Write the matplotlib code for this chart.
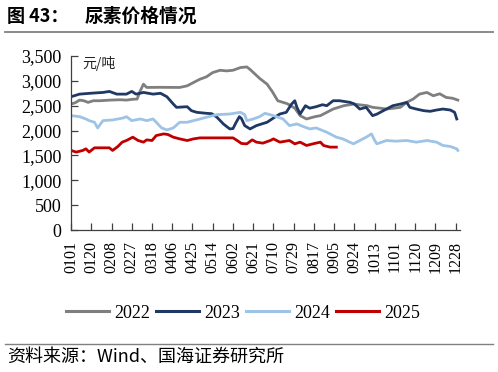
import matplotlib
matplotlib.use('Agg')
import matplotlib.pyplot as plt
from matplotlib.lines import Line2D

SERIF = 'Liberation Serif'
CJK = ['Noto Sans CJK SC', 'DejaVu Sans']

COLORS = {
    '2022': '#7f7f7f',
    '2023': '#1f3864',
    '2024': '#9dc3e6',
    '2025': '#c00000',
}

# day-of-year index (0 = Jan 1) and price (yuan/ton)
days_2022 = [0, 4, 8, 12, 16, 21, 27, 37, 46, 52, 58, 62, 65, 68, 71, 83, 102, 109,
             115, 121, 127, 133, 140, 146, 152, 159, 165, 168, 173, 177, 184, 189,
             194, 203, 210, 215, 221, 229, 234, 246, 256, 265, 278, 283, 290, 296,
             303, 309, 315, 321, 327, 334, 340, 346, 352, 358, 363]
vals_2022 = [2533, 2560, 2613, 2600, 2567, 2600, 2600, 2613, 2620, 2613, 2630, 2633,
             2800, 2933, 2867, 2870, 2867, 2900, 2967, 3033, 3080, 3167, 3213, 3200,
             3213, 3267, 3280, 3230, 3130, 3050, 2933, 2780, 2600, 2540, 2450, 2300,
             2233, 2280, 2300, 2433, 2500, 2533, 2500, 2467, 2450, 2433, 2450, 2467,
             2567, 2633, 2733, 2767, 2700, 2740, 2667, 2650, 2613]

days_2023 = [0, 8, 20, 30, 36, 43, 52, 57, 61, 68, 77, 84, 90, 96, 99, 109, 113, 118,
             127, 132, 137, 143, 149, 152, 155, 158, 160, 163, 168, 174, 184, 191,
             196, 202, 207, 210, 212, 215, 220, 224, 230, 236, 240, 246, 252, 262,
             266, 271, 277, 283, 287, 296, 302, 309, 315, 318, 324, 331, 337, 343,
             349, 356, 360, 362]
vals_2023 = [2680, 2733, 2753, 2767, 2787, 2733, 2733, 2787, 2733, 2767, 2733, 2750,
             2680, 2533, 2467, 2480, 2400, 2367, 2347, 2340, 2267, 2133, 2033, 2040,
             2167, 2280, 2240, 2100, 2033, 2100, 2167, 2267, 2333, 2367, 2533, 2600,
             2467, 2333, 2500, 2450, 2480, 2520, 2500, 2600, 2600, 2567, 2533, 2433,
             2467, 2300, 2330, 2433, 2500, 2533, 2567, 2467, 2433, 2400, 2387, 2413,
             2433, 2413, 2367, 2233]

days_2024 = [0, 8, 14, 17, 22, 25, 30, 39, 49, 52, 57, 65, 71, 77, 80, 85, 90, 96,
             102, 109, 115, 121, 127, 137, 149, 159, 163, 165, 171, 177, 182, 190,
             199, 205, 212, 218, 224, 230, 240, 249, 255, 265, 271, 277, 282, 285,
             287, 296, 305, 315, 324, 334, 343, 349, 356, 362, 363]
vals_2024 = [2300, 2280, 2233, 2200, 2167, 2053, 2200, 2213, 2253, 2280, 2200, 2233,
             2200, 2233, 2167, 2053, 2013, 2053, 2167, 2167, 2200, 2233, 2267, 2320,
             2333, 2367, 2320, 2200, 2233, 2280, 2347, 2300, 2233, 2100, 2133, 2080,
             2033, 2053, 1967, 1867, 1833, 1733, 1800, 1867, 1933, 1800, 1733, 1800,
             1787, 1800, 1767, 1800, 1767, 1700, 1680, 1633, 1600]

days_2025 = [0, 5, 11, 14, 17, 22, 36, 39, 44, 48, 52, 58, 63, 68, 71, 76, 80, 87,
             91, 96, 102, 109, 115, 121, 140, 152, 155, 160, 165, 170, 174, 180, 187,
             190, 196, 205, 210, 215, 221, 227, 234, 237, 243, 249]
vals_2025 = [1600, 1567, 1600, 1633, 1567, 1653, 1653, 1600, 1680, 1767, 1800, 1867,
             1800, 1767, 1813, 1800, 1900, 1933, 1920, 1867, 1833, 1800, 1833, 1853,
             1853, 1853, 1813, 1740, 1733, 1813, 1767, 1747, 1800, 1833, 1767, 1800,
             1733, 1767, 1700, 1733, 1767, 1700, 1667, 1667]

tick_labels = ['0101', '0120', '0208', '0227', '0318', '0406', '0425', '0514', '0602',
               '0621', '0710', '0729', '0817', '0905', '0924', '1013', '1101', '1120',
               '1209', '1228']
tick_days = [19 * i for i in range(len(tick_labels))]

series = [
    ('2022', days_2022, vals_2022),
    ('2023', days_2023, vals_2023),
    ('2024', days_2024, vals_2024),
    ('2025', days_2025, vals_2025),
]

fig = plt.figure(figsize=(4.98, 3.72), dpi=100, facecolor='white')
ax = fig.add_axes([0.1426, 0.3817, 0.781, 0.4678])

for name, d, v in series:
    ax.plot(d, v, color=COLORS[name], linewidth=2.0, solid_joinstyle='round')

ax.set_xlim(0, 365)
ax.set_ylim(0, 3500)
ax.set_yticks(range(0, 3501, 500))
ax.set_yticklabels([f'{v:,}' for v in range(0, 3501, 500)])
ax.set_xticks(tick_days)
ax.set_xticklabels(tick_labels, rotation=90)

for s in ['top', 'right']:
    ax.spines[s].set_visible(False)
for s in ['left', 'bottom']:
    ax.spines[s].set_color('#404040')
    ax.spines[s].set_linewidth(0.9)
ax.tick_params(axis='y', direction='in', length=5, width=0.9, color='#404040', pad=7,
               labelsize=13, labelfontfamily=SERIF)
ax.tick_params(axis='x', direction='in', length=5, width=0.9, color='#404040', pad=8,
               labelsize=11.5, labelfontfamily=SERIF)
for lbl in ax.get_xticklabels() + ax.get_yticklabels():
    lbl.set_fontfamily(SERIF)

ax.text(0.03, 0.955, '元/吨', transform=ax.transAxes, fontsize=10, family=CJK,
        ha='left', va='center', color='#222222')

# legend below plot
handles = [Line2D([0], [0], color=COLORS[n], linewidth=2.2) for n, _, _ in series]
fig.legend(handles, [n for n, _, _ in series], loc='center',
           bbox_to_anchor=(0.488, 1 - 313 / 372), ncol=4, frameon=False,
           handlelength=2.4, handletextpad=0.3, columnspacing=0.3,
           prop={'family': SERIF, 'size': 13})

# title + separators + source
fig.text(7 / 498, 1 - 16 / 372, '图 43：', fontsize=13, fontweight='bold', family=CJK,
         ha='left', va='center')
fig.text(85 / 498, 1 - 16 / 372, '尿素价格情况', fontsize=13.5, fontweight='bold',
         family=CJK, ha='left', va='center')
fig.add_artist(Line2D([5 / 498, 493 / 498], [1 - 32 / 372, 1 - 32 / 372],
                      color='#808080', linewidth=1.3))
fig.add_artist(Line2D([5 / 498, 493 / 498], [1 - 344 / 372, 1 - 344 / 372],
                      color='#808080', linewidth=1.0))
fig.text(7 / 498, 1 - 357 / 372, '资料来源：Wind、国海证券研究所', fontsize=13, family=CJK,
         ha='left', va='center')

fig.savefig('out.png', dpi=100, facecolor='white')
